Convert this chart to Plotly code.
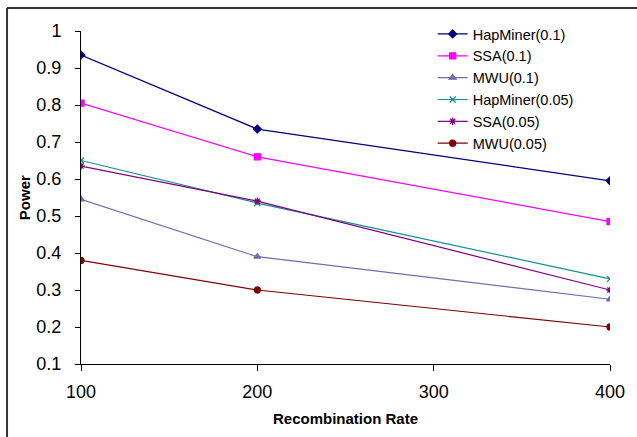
import plotly.graph_objects as go

rates = [100, 200, 400]
series_names = ["HapMiner(0.1)", "SSA(0.1)", "MWU(0.1)", "HapMiner(0.05)", "SSA(0.05)", "MWU(0.05)"]
hapminer_01 = [0.935, 0.735, 0.595]
ssa_01 = [0.805, 0.66, 0.485]
mwu_01 = [0.545, 0.39, 0.275]
hapminer_005 = [0.65, 0.535, 0.33]
ssa_005 = [0.635, 0.54, 0.30]
mwu_005 = [0.38, 0.30, 0.20]
y_ticks = [0.1, 0.2, 0.3, 0.4, 0.5, 0.6, 0.7, 0.8, 0.9, 1]
x_ticks = [100, 200, 300, 400]

values = [hapminer_01, ssa_01, mwu_01, hapminer_005, ssa_005, mwu_005]
colors = ["#000080", "#FF00FF", "#6E6EAE", "#109090", "#800080", "#800000"]
symbols = ["diamond", "square", "triangle-up", "x-thin", "asterisk", "circle"]
sizes = [6, 6, 6, 6, 6, 6]

fig = go.Figure()
for name, vals, c, s, sz in zip(series_names, values, colors, symbols, sizes):
    fig.add_trace(go.Scatter(
        x=rates, y=vals, name=name, mode="lines+markers",
        line=dict(color=c, width=1.2),
        marker=dict(symbol=s, size=sz, color=c, line=dict(color=c, width=1.3)),
    ))

L, R, T, B = 81, 16, 31, 73
W, H = 637, 437
pw, ph = W - L - R, H - T - B

fig.update_layout(
    width=W, height=H,
    margin=dict(l=L, r=R, t=T, b=B),
    paper_bgcolor="white", plot_bgcolor="white",
    font=dict(family="Liberation Sans, Arial, sans-serif", color="black"),
    showlegend=True,
    legend=dict(
        x=(440 - L) / pw, y=1 - (18 - T) / ph, xanchor="left", yanchor="top",
        font=dict(size=14.5), bgcolor="rgba(0,0,0,0)", tracegroupgap=0,
    ),
    xaxis=dict(
        range=[100, 400], tickvals=x_ticks, showgrid=False, zeroline=False,
        showline=True, linecolor="black", linewidth=1,
        ticks="outside", ticklen=6, tickcolor="black",
        tickfont=dict(size=18), ticklabelstandoff=5,
    ),
    yaxis=dict(
        range=[0.1, 1], tickvals=y_ticks, ticktext=[f"{v:g}" for v in y_ticks],
        showgrid=False, zeroline=False,
        showline=True, linecolor="black", linewidth=1,
        ticks="outside", ticklen=5, tickcolor="black",
        tickfont=dict(size=18), ticklabelstandoff=10,
    ),
    annotations=[
        dict(text="<b>Recombination Rate</b>", xref="paper", yref="paper",
             x=0.5, y=-(418 - (H - B)) / ph, xanchor="center", yanchor="middle",
             showarrow=False, font=dict(size=15)),
        dict(text="<b>Power</b>", xref="paper", yref="paper", textangle=-90,
             x=(23 - L) / pw, y=1 - (198 - T) / ph, xanchor="center", yanchor="middle",
             showarrow=False, font=dict(size=15)),
    ],
    shapes=[
        dict(type="line", xref="paper", yref="paper",
             x0=(5.5 - L) / pw, x1=(700 - L) / pw, y0=1 + (T - 8) / ph, y1=1 + (T - 8) / ph,
             line=dict(color="#333333", width=2)),
        dict(type="line", xref="paper", yref="paper",
             x0=(5.5 - L) / pw, x1=(5.5 - L) / pw, y0=1 + (T - 8) / ph, y1=-(B + 20) / ph,
             line=dict(color="#333333", width=2)),
    ],
)

fig.write_html("out.html")
